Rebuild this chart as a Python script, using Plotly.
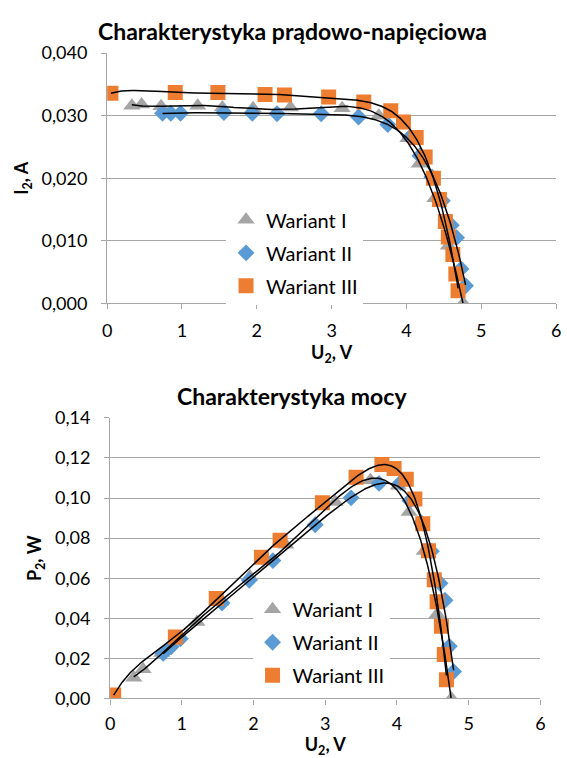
import numpy as np
import plotly.graph_objects as go

# ---------------- data ----------------
names = ["Wariant I", "Wariant II", "Wariant III"]

u_w1 = [0.33, 0.46, 0.72, 1.21, 1.54, 1.95, 2.45, 3.14, 3.63, 4.02, 4.17, 4.38, 4.56, 4.76]
i_w1 = [0.0316, 0.0318, 0.0315, 0.0316, 0.0313, 0.0312, 0.0313, 0.0312, 0.0300, 0.0264, 0.0223, 0.0168, 0.0092, 0.0000]
p_w1 = [0.0104, 0.0146, 0.0227, 0.0382, 0.0482, 0.0608, 0.0767, 0.0980, 0.1089, 0.1061, 0.0930, 0.0736, 0.0420, 0.0000]

u_w2 = [0.74, 0.85, 0.98, 1.56, 1.94, 2.27, 2.86, 3.36, 3.75, 4.05, 4.18, 4.34, 4.48, 4.60, 4.67, 4.73, 4.79]
i_w2 = [0.0304, 0.0304, 0.0304, 0.0305, 0.0304, 0.0303, 0.0303, 0.0298, 0.0286, 0.0266, 0.0236, 0.0202, 0.0164, 0.0125, 0.0105, 0.0055, 0.0028]
p_w2 = [0.0225, 0.0258, 0.0298, 0.0476, 0.0590, 0.0688, 0.0867, 0.1001, 0.1073, 0.1077, 0.0987, 0.0877, 0.0735, 0.0575, 0.0490, 0.0260, 0.0134]

u_w3 = [0.05, 0.91, 1.48, 2.11, 2.37, 2.96, 3.43, 3.79, 3.96, 4.13, 4.25, 4.36, 4.44, 4.52, 4.56, 4.62, 4.66, 4.69]
i_w3 = [0.0336, 0.0337, 0.0337, 0.0334, 0.0333, 0.0330, 0.0322, 0.0308, 0.0290, 0.0265, 0.0234, 0.0200, 0.0166, 0.0131, 0.0106, 0.0078, 0.0047, 0.0020]
p_w3 = [0.0017, 0.0307, 0.0499, 0.0705, 0.0789, 0.0977, 0.1104, 0.1167, 0.1148, 0.1094, 0.0995, 0.0872, 0.0737, 0.0592, 0.0483, 0.0360, 0.0219, 0.0094]

x_ticks = [0, 1, 2, 3, 4, 5, 6]
i_ticks = [0.0, 0.01, 0.02, 0.03, 0.04]
p_ticks = [0.0, 0.02, 0.04, 0.06, 0.08, 0.10, 0.12, 0.14]

# ---------------- style ----------------
W, H = 567, 758
FONT = "Lato, 'Open Sans', sans-serif"
colors = ["#A5A5A5", "#5B9BD5", "#ED7D31"]
symbols = ["triangle-up", "diamond", "square"]
sizes = [15, 13, 15]
GRID = "#A6A6A6"
TICK = 18
LEG = 20

def px_x(v):
    return v / W

def px_y(v):
    return 1 - v / H

fig = go.Figure()

series_top = [(u_w1, i_w1), (u_w2, i_w2), (u_w3, i_w3)]
series_bot = [(u_w1, p_w1), (u_w2, p_w2), (u_w3, p_w3)]

for k in range(3):
    u, i = series_top[k]
    fig.add_trace(go.Scatter(x=u, y=i, mode="markers", name=names[k],
                             marker=dict(symbol=symbols[k], size=sizes[k], color=colors[k]),
                             xaxis="x", yaxis="y", legend="legend", legendgroup="t%d" % k))
for k in range(3):
    u, p = series_bot[k]
    fig.add_trace(go.Scatter(x=u, y=p, mode="markers", name=names[k],
                             marker=dict(symbol=symbols[k], size=sizes[k], color=colors[k]),
                             xaxis="x2", yaxis="y2", legend="legend2", legendgroup="b%d" % k))

# polynomial trend lines (order 6), as Excel does
for k in range(3):
    u, i = series_top[k]
    c = np.polyfit(u, i, 6)
    xs = np.linspace(min(u), max(u), 300)
    fig.add_trace(go.Scatter(x=xs, y=np.polyval(c, xs), mode="lines", showlegend=False,
                             line=dict(color="black", width=1.5), xaxis="x", yaxis="y", hoverinfo="skip"))
for k in range(3):
    u, p = series_bot[k]
    c = np.polyfit(u, p, 6)
    xs = np.linspace(min(u), max(u), 300)
    fig.add_trace(go.Scatter(x=xs, y=np.polyval(c, xs), mode="lines", showlegend=False,
                             line=dict(color="black", width=1.5), xaxis="x2", yaxis="y2", hoverinfo="skip"))

axis_common = dict(showline=True, linecolor=GRID, linewidth=1.3, ticks="outside", ticklen=5,
                   tickcolor=GRID, tickfont=dict(size=TICK, color="#000000", family=FONT),
                   zeroline=False)

fig.update_layout(
    width=W, height=H,
    margin=dict(l=0, r=0, t=0, b=0),
    paper_bgcolor="white", plot_bgcolor="white",
    separators=", ",
    font=dict(family=FONT, color="#000000"),
    showlegend=True,
    xaxis=dict(domain=[px_x(104), px_x(561)], anchor="y", range=[0, 6], tickvals=x_ticks,
               showgrid=False, ticklabelstandoff=6,
               title=dict(text="<b>U<sub>2</sub>, V</b>", font=dict(size=18, family=FONT), standoff=2),
               **axis_common),
    yaxis=dict(domain=[px_y(300), px_y(42.4)], anchor="x", range=[0, 0.04], tickvals=i_ticks,
               tickformat=".3f", showgrid=True, gridcolor=GRID, gridwidth=1, ticklabelstandoff=10,
               title=dict(text="<b>I<sub>2</sub>, A</b>", font=dict(size=18, family=FONT), standoff=8),
               **axis_common),
    xaxis2=dict(domain=[px_x(107), px_x(545)], anchor="y2", range=[0, 6], tickvals=x_ticks,
                showgrid=False, ticklabelstandoff=4,
                title=dict(text="<b>U<sub>2</sub>, V</b>", font=dict(size=18, family=FONT), standoff=0),
                **axis_common),
    yaxis2=dict(domain=[px_y(707), px_y(418)], anchor="x2", range=[0, 0.14], tickvals=p_ticks,
                tickformat=".2f", showgrid=True, gridcolor=GRID, gridwidth=1, ticklabelstandoff=10,
                title=dict(text="<b>P<sub>2</sub>, W</b>", font=dict(size=18, family=FONT), standoff=8),
                **axis_common),
    legend=dict(x=px_x(225), y=px_y(194), xanchor="left", yanchor="top", bgcolor="white",
                font=dict(size=LEG, family=FONT), tracegroupgap=4, itemwidth=30),
    legend2=dict(x=px_x(252), y=px_y(595), xanchor="left", yanchor="top", bgcolor="white",
                 font=dict(size=LEG, family=FONT), tracegroupgap=4, itemwidth=30),
    annotations=[
        dict(text="<b>Charakterystyka prądowo-napięciowa</b>", x=px_x(293), y=px_y(20),
             xref="paper", yref="paper", showarrow=False, xanchor="center", yanchor="middle",
             font=dict(size=23, family=FONT)),
        dict(text="<b>Charakterystyka mocy</b>", x=px_x(292), y=px_y(395),
             xref="paper", yref="paper", showarrow=False, xanchor="center", yanchor="middle",
             font=dict(size=23, family=FONT)),
    ],
)

fig.write_html("out.html")
